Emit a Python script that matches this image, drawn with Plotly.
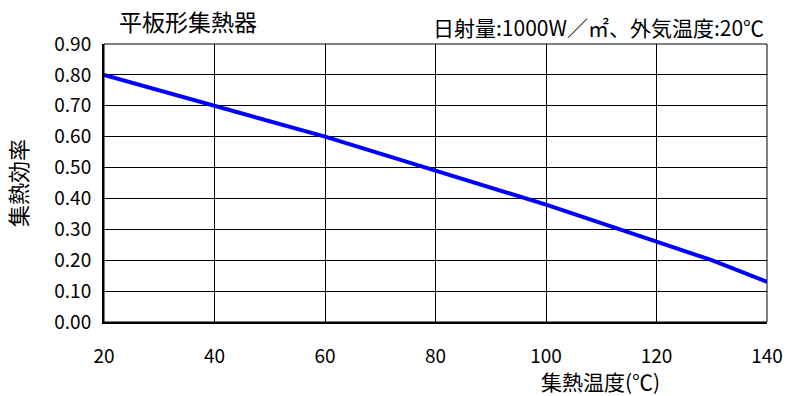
import plotly.graph_objects as go

# data
temps = [20, 40, 60, 80, 100, 120, 130, 140]
efficiency = [0.80, 0.70, 0.60, 0.49, 0.38, 0.26, 0.20, 0.13]
x_ticks = [20, 40, 60, 80, 100, 120, 140]
y_ticks = [0.0, 0.1, 0.2, 0.3, 0.4, 0.5, 0.6, 0.7, 0.8, 0.9]
y_tick_labels = [f"{v:.2f}" for v in y_ticks]

title_text = "平板形集熱器"
subtitle_text = "日射量:1000W／㎡、外気温度:20℃"
x_title = "集熱温度(℃)"
y_title = "集熱効率"

FONT = "Noto Sans CJK JP"

fig = go.Figure()
fig.add_trace(go.Scatter(
    x=temps, y=efficiency, mode="lines",
    line=dict(color="#0000ff", width=4),
    showlegend=False, hoverinfo="skip",
))

fig.update_layout(
    width=786, height=396,
    margin=dict(l=104, r=19, t=44, b=74),
    paper_bgcolor="white", plot_bgcolor="white",
    font=dict(family=FONT, color="black", size=19),
    xaxis=dict(
        range=[20, 140], tickvals=x_ticks, ticktext=[str(v) for v in x_ticks],
        showgrid=True, gridcolor="black", gridwidth=1,
        showline=True, linecolor="black", linewidth=2,
        ticks="", ticklabelstandoff=16, zeroline=False, automargin=False,
        tickfont=dict(size=19, family=FONT),
    ),
    yaxis=dict(
        range=[0, 0.9], tickvals=y_ticks, ticktext=y_tick_labels,
        showgrid=True, gridcolor="black", gridwidth=1,
        showline=True, linecolor="black", linewidth=2,
        ticks="", ticklabelstandoff=7, zeroline=False, automargin=False,
        tickfont=dict(size=19, family=FONT),
    ),
    shapes=[dict(type="rect", xref="paper", yref="paper", x0=0, y0=0, x1=1, y1=1,
                 line=dict(color="black", width=1), layer="above")],
    annotations=[
        dict(text=title_text, xref="paper", yref="paper", x=(117 - 104) / 663, y=1,
             yshift=23, xanchor="left", yanchor="middle", showarrow=False,
             font=dict(size=23, family=FONT)),
        dict(text=subtitle_text, xref="paper", yref="paper", x=1, y=1, xshift=-1,
             yshift=17, xanchor="right", yanchor="middle", showarrow=False,
             font=dict(size=21, family=FONT)),
        dict(text=x_title, xref="paper", yref="paper", x=(600 - 104) / 663, y=0,
             yshift=-59, xanchor="center", yanchor="middle", showarrow=False,
             font=dict(size=21, family=FONT)),
        dict(text=y_title, xref="paper", yref="paper", x=0, xshift=-87, y=0.5,
             xanchor="center", yanchor="middle", showarrow=False, textangle=-90,
             font=dict(size=22, family=FONT)),
    ],
)

fig.write_html(
    "out.html",
    config={"displayModeBar": False},
    post_script="document.body.style.margin='0';document.body.style.overflow='hidden';",
)
